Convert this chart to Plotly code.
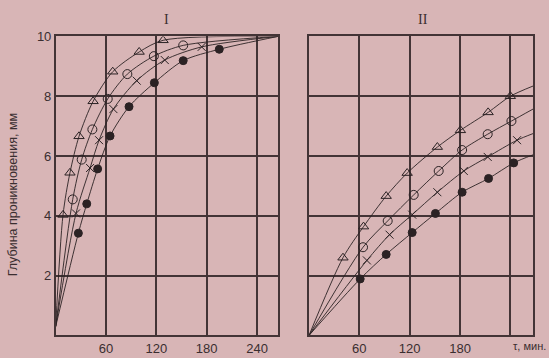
import plotly.graph_objects as go

# ---- data ----
# Panel I
L_tri_t = [8.7, 17, 27.8, 44.6, 68, 99.5, 128]
L_tri_y = [4.03, 5.44, 6.66, 7.83, 8.82, 9.48, 9.87]
L_cir_t = [20.3, 31, 43.7, 62, 85.4, 117, 152]
L_cir_y = [4.55, 5.88, 6.89, 7.91, 8.74, 9.34, 9.70]
L_x_t = [24.2, 41, 51.7, 68.8, 96.6, 130, 174]
L_x_y = [4.08, 5.6, 6.53, 7.57, 8.52, 9.21, 9.65]
L_dot_t = [27, 37, 50, 64.8, 87.4, 117.6, 152, 195]
L_dot_y = [3.42, 4.4, 5.57, 6.67, 7.65, 8.45, 9.19, 9.57]
L_start = (0, 0.3)
L_end = (265, 10)

# Panel II
R_tri_t = [40.5, 65, 92, 117, 153, 180.5, 213.5, 240]
R_tri_y = [2.6, 3.64, 4.66, 5.43, 6.3, 6.86, 7.46, 8.0]
R_cir_t = [64.4, 93.8, 124.8, 154.6, 182.5, 213, 241.3]
R_cir_y = [2.95, 3.83, 4.7, 5.5, 6.2, 6.73, 7.17]
R_x_t = [69, 96, 123, 153, 184.5, 213, 248]
R_x_y = [2.51, 3.37, 4.04, 4.79, 5.5, 5.97, 6.53]
R_dot_t = [61, 92, 123, 150.7, 182.5, 214, 244]
R_dot_y = [1.89, 2.71, 3.44, 4.08, 4.79, 5.25, 5.77]
R_start = (0, 0)
R_end_t = 267
R_end_y = {"tri": 8.34, "cir": 7.57, "x": 6.75, "dot": 6.04}

x_ticks_L = [60, 120, 180, 240]
x_ticks_R = [60, 120, 180, 240]
x_labels_R = ["60", "120", "180", ""]
y_ticks = [2, 4, 6, 8, 10]

BG = "#d8b5b6"
INK = "#2b2224"
GRID = "#433436"
TXT = "#3a2e30"

fig = go.Figure()

def add_series(t, y, start, end, symbol, xa, ya, size):
    fig.add_trace(go.Scatter(
        x=[start[0]] + t + [end[0]], y=[start[1]] + y + [end[1]],
        mode="lines", line=dict(color=INK, width=0.9, shape="spline", smoothing=0.8),
        xaxis=xa, yaxis=ya, showlegend=False, hoverinfo="skip"))
    fig.add_trace(go.Scatter(
        x=t, y=y, mode="markers",
        marker=dict(symbol=symbol, size=size, color=INK, line=dict(color=INK, width=1)),
        xaxis=xa, yaxis=ya, showlegend=False))

add_series(L_tri_t, L_tri_y, L_start, L_end, "triangle-up-open", "x", "y", 9)
add_series(L_cir_t, L_cir_y, L_start, L_end, "circle-open", "x", "y", 9)
add_series(L_x_t, L_x_y, L_start, L_end, "x-thin-open", "x", "y", 8)
add_series(L_dot_t, L_dot_y, L_start, L_end, "circle", "x", "y", 8)

add_series(R_tri_t, R_tri_y, R_start, (R_end_t, R_end_y["tri"]), "triangle-up-open", "x2", "y2", 9)
add_series(R_cir_t, R_cir_y, R_start, (R_end_t, R_end_y["cir"]), "circle-open", "x2", "y2", 9)
add_series(R_x_t, R_x_y, R_start, (R_end_t, R_end_y["x"]), "x-thin-open", "x2", "y2", 8)
add_series(R_dot_t, R_dot_y, R_start, (R_end_t, R_end_y["dot"]), "circle", "x2", "y2", 8)

W, H = 549, 358
def fx(px): return px / W
def fy(py): return 1 - py / H

axis_common = dict(showgrid=True, gridcolor=GRID, gridwidth=1.5, showline=True,
                   linecolor=GRID, linewidth=1.5, mirror=True, zeroline=False,
                   ticks="", tickfont=dict(family="Liberation Sans, Arial", size=13, color=TXT))

fig.update_layout(
    width=W, height=H, margin=dict(l=0, r=0, t=0, b=0),
    paper_bgcolor=BG, plot_bgcolor=BG,
    xaxis=dict(domain=[fx(55.7), fx(278)], range=[0, 265], tickvals=x_ticks_L,
               ticktext=[str(v) for v in x_ticks_L], anchor="y", **axis_common),
    yaxis=dict(domain=[fy(335), fy(30)], range=[0, 10], tickvals=y_ticks, anchor="x", **axis_common),
    xaxis2=dict(domain=[fx(309), fx(533)], range=[0, 267], tickvals=x_ticks_R,
                ticktext=x_labels_R, anchor="y2", **axis_common),
    yaxis2=dict(domain=[fy(335), fy(30)], range=[0, 10], tickvals=y_ticks, showticklabels=False,
                anchor="x2", **axis_common),
    annotations=[
        dict(text="I", x=fx(166), y=fy(13), xref="paper", yref="paper", showarrow=False,
             xanchor="center", yanchor="middle",
             font=dict(family="Liberation Serif, Times New Roman", size=14, color=TXT)),
        dict(text="II", x=fx(423), y=fy(13), xref="paper", yref="paper", showarrow=False,
             xanchor="center", yanchor="middle",
             font=dict(family="Liberation Serif, Times New Roman", size=14, color=TXT)),
        dict(text="τ, мин.", x=fx(548), y=fy(346), xref="paper", yref="paper", showarrow=False,
             xanchor="right", yanchor="middle",
             font=dict(family="Liberation Sans, Arial", size=11, color=TXT)),
        dict(text="Глубина проникновения, мм", x=fx(13), y=fy(192), xref="paper", yref="paper",
             showarrow=False, textangle=-90, xanchor="center", yanchor="middle",
             font=dict(family="Liberation Sans, Arial", size=12.5, color=TXT)),
    ],
)

fig.write_html("out.html", config={"displayModeBar": False},
               post_script="document.body.style.margin='0';document.body.style.overflow='hidden';")
